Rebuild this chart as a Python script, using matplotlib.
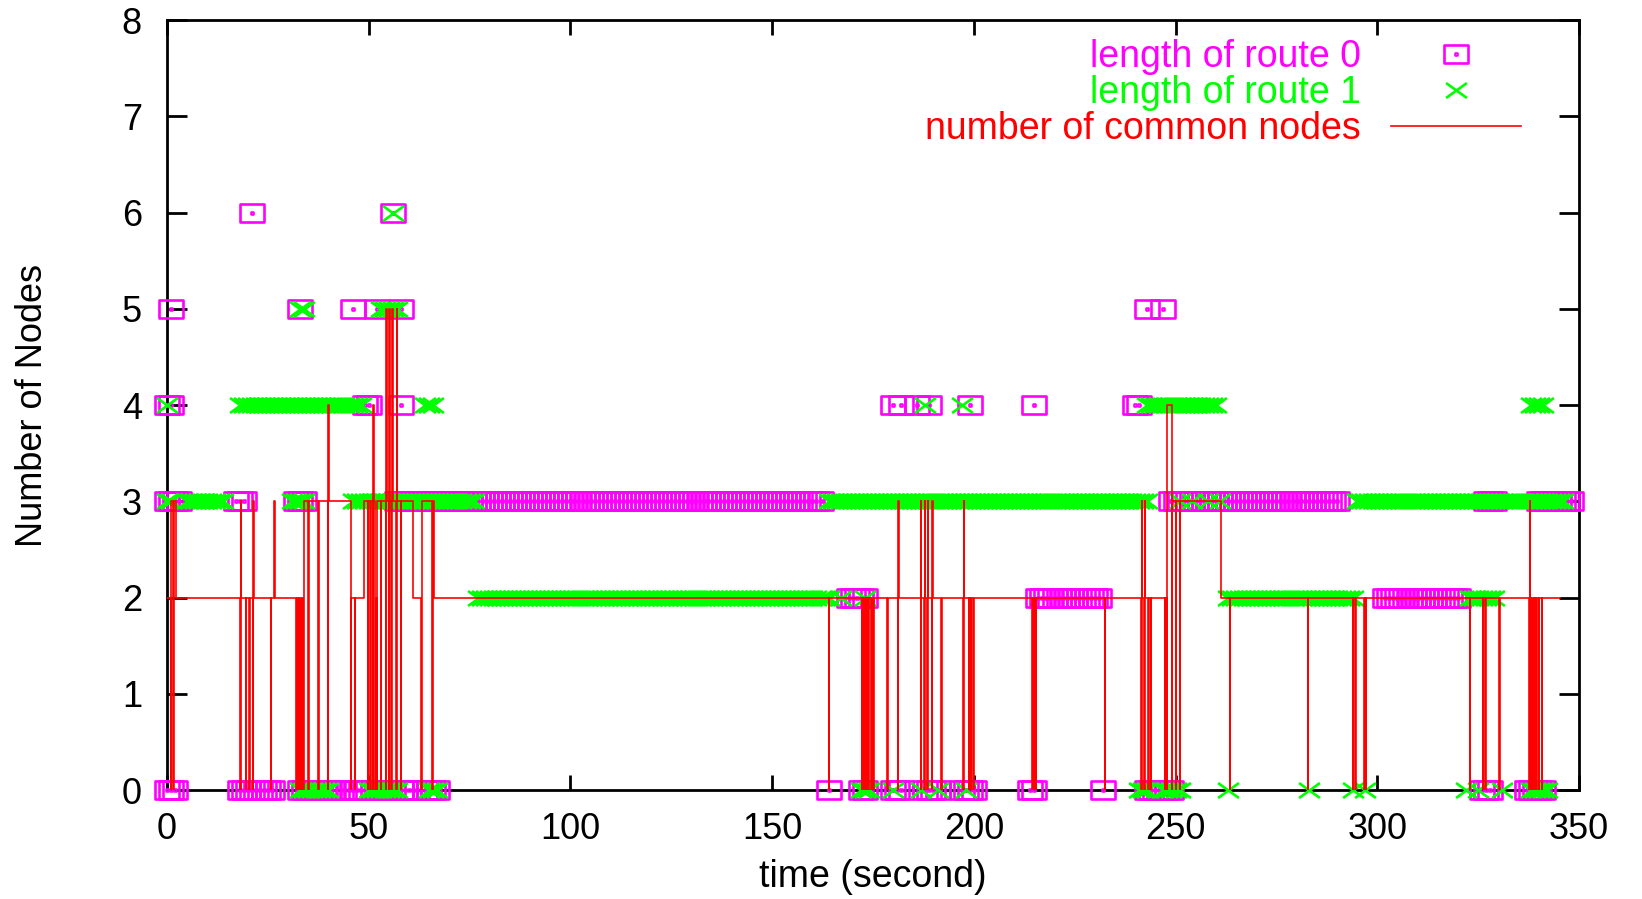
import numpy as np
import matplotlib
matplotlib.use("Agg")
import matplotlib.pyplot as plt
from matplotlib.path import Path
from matplotlib.lines import Line2D

plt.rcParams['font.family'] = ['Liberation Sans', 'DejaVu Sans']

# ---------------------------------------------------------------- data
X_TICKS = [0, 50, 100, 150, 200, 250, 300, 350]
Y_TICKS = [0, 1, 2, 3, 4, 5, 6, 7, 8]
SAMPLE_STEP = 1.0  # seconds between route-length samples

SERIES_LABELS = ["length of route 0", "length of route 1", "number of common nodes"]

# runs of identical route length: (first sample time, last sample time, nodes)
ROUTE0_RUNS = [
    (0, 2, 0), (18, 26, 0), (33, 41, 0), (44, 49, 0), (52, 55, 0), (58, 62, 0),
    (64, 67, 0), (164, 164, 0), (172, 173, 0), (180, 182, 0), (188, 191, 0),
    (197, 200, 0), (214, 215, 0), (232, 232, 0), (243, 249, 0), (326, 328, 0),
    (337, 341, 0),
    (169, 173, 2), (216, 231, 2), (302, 320, 2),
    (0, 3, 3), (17, 19, 3), (32, 34, 3), (57, 59, 3), (64, 78, 3), (79, 162, 3),
    (249, 290, 3), (327, 329, 3), (340, 348, 3),
    (0, 1, 4), (49, 50, 4), (58, 58, 4), (180, 180, 4), (182, 182, 4),
    (186, 186, 4), (189, 189, 4), (199, 199, 4), (215, 215, 4), (240, 241, 4),
    (1, 1, 5), (33, 33, 5), (46, 46, 5), (52, 52, 5), (58, 58, 5),
    (243, 243, 5), (247, 247, 5),
    (21, 21, 6), (56, 56, 6),
]

ROUTE1_RUNS = [
    (33, 40, 0), (50, 57, 0), (65, 67, 0), (172, 174, 0), (180, 180, 0),
    (187, 187, 0), (191, 191, 0), (198, 198, 0), (241, 243, 0), (247, 251, 0),
    (263, 263, 0), (283, 283, 0), (294, 294, 0), (297, 297, 0), (322, 322, 0),
    (325, 325, 0), (331, 331, 0), (338, 342, 0),
    (77, 164, 2), (167, 167, 2), (173, 173, 2), (263, 294, 2), (323, 329, 2),
    (0, 1, 3), (5, 14, 3), (31, 34, 3), (46, 76, 3), (164, 243, 3),
    (251, 251, 3), (254, 254, 3), (258, 258, 3), (261, 261, 3), (295, 346, 3),
    (0, 0, 4), (18, 48, 4), (64, 66, 4), (188, 188, 4), (197, 197, 4),
    (243, 260, 4), (338, 341, 4),
    (33, 34, 5), (53, 57, 5),
    (56, 56, 6),
]

# common nodes of both routes: (time, new value) at every change
COMMON_STEPS = [
    (0.0, 2), (1.0, 0), (1.1, 3), (1.6, 0), (1.7, 3), (2.2, 2),
    (18.2, 0), (18.3, 3), (18.4, 2), (19.6, 0), (19.7, 2), (20.4, 0), (20.5, 2),
    (21.3, 0), (21.4, 3), (21.5, 2), (25.8, 0), (25.9, 2), (26.6, 3), (26.7, 2),
    (32.0, 0), (32.2, 2), (32.4, 0), (32.6, 2), (32.8, 0), (33.0, 2), (33.2, 0),
    (33.4, 2), (33.6, 0), (33.9, 3), (35.0, 0), (35.2, 3), (37.4, 0), (37.6, 3),
    (39.9, 0), (40.0, 4), (40.2, 3), (45.6, 0), (45.7, 2), (46.5, 0), (46.6, 2),
    (48.8, 3), (49.8, 0), (49.9, 3), (50.4, 0), (50.5, 3), (51.0, 0), (51.1, 4),
    (51.3, 3), (51.6, 0), (51.7, 2), (52.0, 0), (52.1, 3), (53.0, 0), (53.1, 3),
    (54.3, 0), (54.4, 5), (54.6, 3), (55.0, 0), (55.1, 5), (55.3, 3), (55.6, 0),
    (55.7, 5), (55.9, 3), (56.8, 0), (56.9, 5), (57.1, 3), (58.0, 0), (58.1, 3),
    (61.0, 2), (63.0, 0), (63.1, 3), (65.8, 0), (65.9, 3), (66.2, 2),
    (164.1, 0), (164.2, 2),
    (172.2, 0), (172.4, 2), (172.6, 0), (172.8, 2), (173.0, 0), (173.2, 2),
    (173.4, 0), (173.6, 2), (173.8, 0), (174.0, 2), (174.5, 0), (174.7, 2),
    (175.0, 0), (175.2, 2), (178.6, 0), (178.7, 2), (181.2, 0), (181.3, 3),
    (181.5, 2), (186.8, 0), (186.9, 3), (187.0, 2), (187.7, 0), (187.8, 3),
    (187.9, 2), (188.5, 0), (188.6, 3), (188.7, 2), (189.6, 0), (189.7, 3),
    (189.8, 2), (191.9, 0), (192.0, 2), (197.4, 0), (197.5, 3), (197.6, 2),
    (198.7, 0), (198.9, 2), (199.2, 0), (199.4, 2), (199.8, 0), (200.0, 2),
    (214.5, 0), (214.7, 2), (214.9, 0), (215.1, 2), (215.3, 0), (215.5, 2),
    (232.5, 0), (232.6, 2), (241.5, 0), (241.6, 3), (241.7, 2), (242.3, 0),
    (242.4, 3), (242.5, 2), (243.2, 0), (243.3, 2), (243.8, 0), (243.9, 2),
    (247.4, 0), (247.5, 2), (247.9, 0), (248.0, 4), (249.1, 0), (249.2, 3),
    (250.0, 0), (250.1, 3), (251.0, 0), (251.1, 3), (261.3, 2),
    (263.4, 0), (263.5, 2), (282.8, 0), (282.9, 2), (294.0, 0), (294.1, 2),
    (294.6, 0), (294.7, 2), (296.8, 0), (296.9, 2), (297.1, 0), (297.2, 2),
    (322.9, 0), (323.0, 2), (326.2, 0), (326.3, 2), (326.8, 0), (326.9, 2),
    (330.3, 0), (330.4, 2), (337.7, 0), (337.8, 3), (337.9, 2),
    (338.2, 0), (338.4, 2), (338.6, 0), (338.8, 2), (339.0, 0), (339.2, 2),
    (339.4, 0), (339.6, 2), (340.0, 0), (340.2, 2), (340.8, 0), (340.9, 2),
    (345.2, 2),
]

MAGENTA = "#ff00ff"
GREEN = "#00ff00"
RED = "#ff0000"


def expand_runs(runs):
    times, values = [], []
    for start, end, nodes in runs:
        ts = np.arange(start, end + SAMPLE_STEP / 2, SAMPLE_STEP)
        times.extend(ts)
        values.extend([nodes] * len(ts))
    return np.array(times), np.array(values)


# open box with a centre dot, and a cross, both slightly wider than tall
BOX = Path(
    [(-1, -0.75), (1, -0.75), (1, 0.75), (-1, 0.75), (-1, -0.75),
     (-0.06, -0.06), (0.06, -0.06), (0.06, 0.06), (-0.06, 0.06), (-0.06, -0.06)],
    [Path.MOVETO, Path.LINETO, Path.LINETO, Path.LINETO, Path.CLOSEPOLY,
     Path.MOVETO, Path.LINETO, Path.LINETO, Path.LINETO, Path.CLOSEPOLY])
CROSS = Path([(-1, -0.72), (1, 0.72), (-1, 0.72), (1, -0.72)],
             [Path.MOVETO, Path.LINETO, Path.MOVETO, Path.LINETO])

box_style = dict(ls="none", marker=BOX, ms=17.0, mec=MAGENTA, mfc="none", mew=1.9)
cross_style = dict(ls="none", marker=CROSS, ms=15.0, mec=GREEN, mfc="none", mew=1.9)
line_style = dict(color=RED, lw=1.2)

TEXT_FONT = ["Liberation Sans", "DejaVu Sans"]

# ---------------------------------------------------------------- figure
fig = plt.figure(figsize=(16.42, 8.99), dpi=100)
ax = fig.add_axes([0.1017, 0.1212, 0.8599, 0.8565])

t0, v0 = expand_runs(ROUTE0_RUNS)
t1, v1 = expand_runs(ROUTE1_RUNS)
ct = [p[0] for p in COMMON_STEPS]
cv = [p[1] for p in COMMON_STEPS]

ax.plot(t0, v0, clip_on=False, zorder=3, **box_style)
ax.plot(t1, v1, clip_on=False, zorder=4, **cross_style)
ax.step(ct, cv, where="post", zorder=5, **line_style)

ax.set_xlim(0, 350)
ax.set_ylim(0, 8)
ax.set_xticks(X_TICKS)
ax.set_yticks(Y_TICKS)

for spine in ax.spines.values():
    spine.set_linewidth(2.0)
    spine.set_color("black")
ax.tick_params(axis="both", direction="in", top=True, right=True, width=2.0,
               colors="black", labelsize=26)
ax.tick_params(axis="x", length=10.5, pad=16)
ax.tick_params(axis="y", length=14.4, pad=18)

ax.set_xlabel("time (second)", fontsize=27)
ax.xaxis.set_label_coords(0.5, -0.113)
ax.xaxis.label.set_va("center")
ax.set_ylabel("Number of Nodes", fontsize=26)
ax.yaxis.set_label_coords(-0.095, 0.5)
ax.yaxis.label.set_va("center")

handles = [Line2D([], [], **box_style), Line2D([], [], **cross_style),
           Line2D([], [], **line_style)]
ax.legend(handles, SERIES_LABELS, loc="upper right",
          bbox_to_anchor=(1521 / 1642, 1 - 39 / 899), bbox_transform=fig.transFigure,
          frameon=False, markerfirst=False, labelcolor=[MAGENTA, GREEN, RED],
          prop={"family": TEXT_FONT, "size": 27},
          handlelength=3.47, handletextpad=0.8, labelspacing=0.0,
          borderpad=0, borderaxespad=0, numpoints=1)

fig.savefig("out.png", dpi=100)
